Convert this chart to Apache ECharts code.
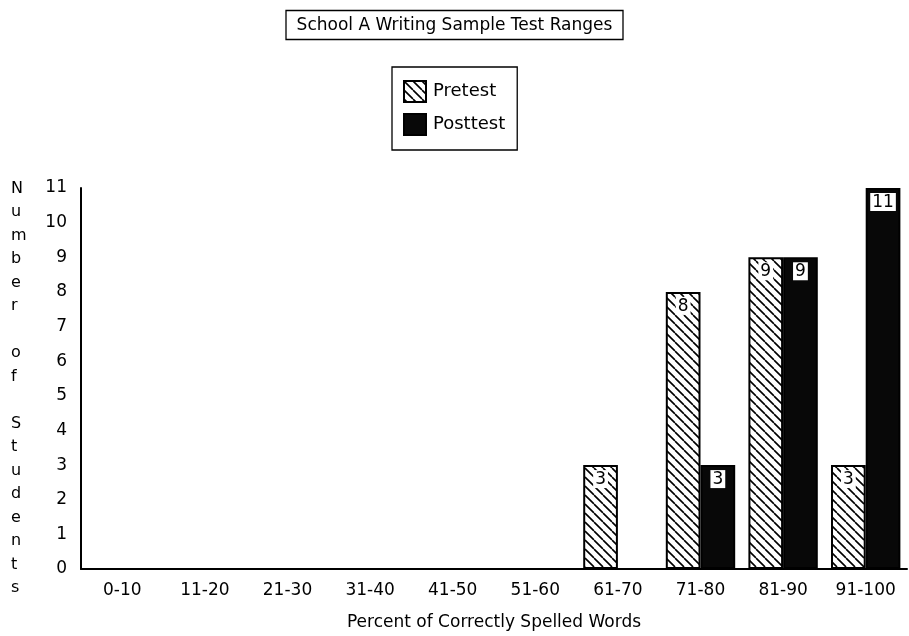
<!DOCTYPE html>
<html>
<head>
<meta charset="utf-8">
<script src="https://cdn.jsdelivr.net/npm/echarts@6/dist/echarts.min.js"></script>
<style>html,body{margin:0;padding:0;background:#fff}#c{width:909px;height:636px}</style>
</head>
<body>
<div id="c"></div>
<script>
const categories = ['0-10','11-20','21-30','31-40','41-50','51-60','61-70','71-80','81-90','91-100'];
const pretest = [0,0,0,0,0,0,3,8,9,3];
const posttest = [0,0,0,0,0,0,0,3,9,11];
const yTicks = {min: 0, max: 11, interval: 1};
const titleText = 'School A Writing Sample Test Ranges';
const xName = 'Percent of Correctly Spelled Words';
const yName = 'Number of Students';

function hatch() {
  const s = 9;
  const c = document.createElement('canvas');
  c.width = s; c.height = s;
  const ctx = c.getContext('2d');
  ctx.fillStyle = '#fff';
  ctx.fillRect(0,0,s,s);
  ctx.strokeStyle = '#000';
  ctx.lineWidth = 1.6;
  ctx.beginPath();
  for (const o of [-s, 0, s]) { ctx.moveTo(o, 0); ctx.lineTo(o + s, s); }
  ctx.stroke();
  return c;
}

const font = '"DejaVu Sans", sans-serif';
const chart = echarts.init(document.getElementById('c'));
const yLetters = yName.split('');

const lbl = {
  show: true,
  position: 'insideTop',
  distance: 5,
  color: '#000',
  backgroundColor: '#fff',
  padding: [1, 2, 0, 2],
  fontFamily: font,
  fontSize: 17,
  formatter: p => p.value > 0 ? p.value : ''
};

chart.setOption({
  animation: false,
  backgroundColor: '#fff',
  textStyle: {fontFamily: font, color: '#000'},
  title: {
    text: titleText,
    left: 'center',
    top: 10,
    borderColor: '#000',
    borderWidth: 1.3,
    padding: [7, 11, 6, 11],
    textStyle: {fontFamily: font, fontSize: 17, fontWeight: 'normal', color: '#000'}
  },
  legend: {
    orient: 'vertical',
    left: 392,
    top: 67,
    width: 126,
    borderColor: '#000',
    borderWidth: 1.3,
    padding: [13, 12, 14, 11],
    itemWidth: 22,
    itemHeight: 21,
    itemGap: 10,
    icon: 'rect',
    textStyle: {fontFamily: font, fontSize: 18, color: '#000', padding: [0,0,0,2]},
    data: ['Pretest', 'Posttest']
  },
  graphic: [{
    type: 'text',
    left: 11,
    top: 177,
    style: {
      text: yLetters.join('\n'),
      font: '16px ' + font,
      lineHeight: 23.5,
      fill: '#000',
      align: 'center'
    }
  }],
  grid: {left: 81, right: 2, top: 188, bottom: 59},
  xAxis: {
    type: 'category',
    data: categories,
    name: xName,
    nameLocation: 'middle',
    nameGap: 45,
    nameTextStyle: {fontFamily: font, fontSize: 17, color: '#000'},
    axisLine: {lineStyle: {color: '#000', width: 2}},
    axisTick: {show: false},
    axisLabel: {color: '#000', fontFamily: font, fontSize: 17, margin: 13}
  },
  yAxis: {
    type: 'value',
    min: yTicks.min,
    max: yTicks.max,
    interval: yTicks.interval,
    axisLine: {show: true, lineStyle: {color: '#000', width: 2}},
    axisTick: {show: false},
    splitLine: {show: false},
    axisLabel: {color: '#000', fontFamily: font, fontSize: 17, margin: 14}
  },
  series: [{
    name: 'Pretest',
    type: 'bar',
    data: pretest,
    barGap: '0%',
    barCategoryGap: '16%',
    itemStyle: {color: {image: hatch(), repeat: 'repeat'}, borderColor: '#000', borderWidth: 2},
    label: lbl
  }, {
    name: 'Posttest',
    type: 'bar',
    data: posttest,
    barGap: '0%',
    barCategoryGap: '16%',
    itemStyle: {color: '#080808', borderColor: '#000', borderWidth: 2},
    label: lbl
  }]
});
</script>
</body>
</html>
